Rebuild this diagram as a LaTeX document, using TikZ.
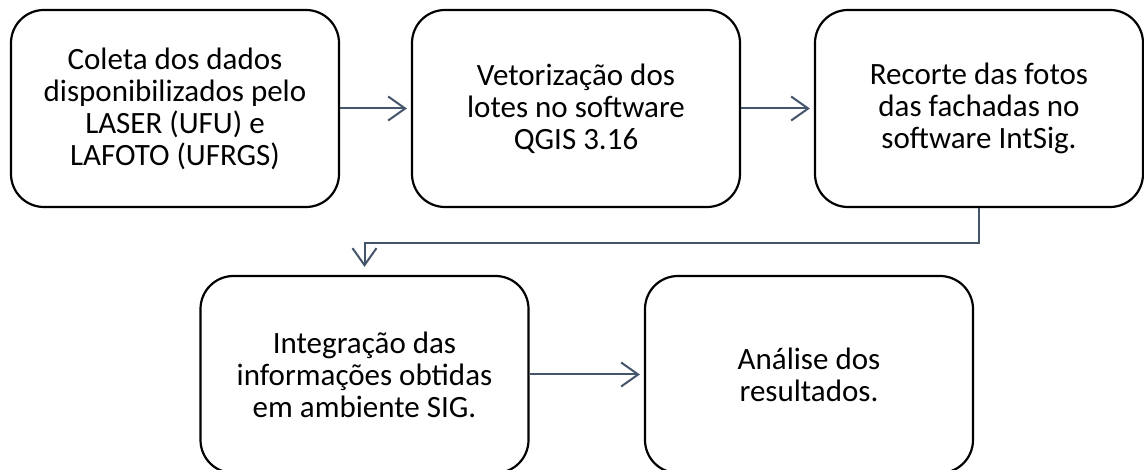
\documentclass[tikz,border=0pt]{standalone}
\usepackage{fontspec}
\setmainfont{Carlito}
\usetikzlibrary{arrows.meta}
\definecolor{slate}{HTML}{44546A}
\tikzset{
  stepbox/.style={draw=black, line width=2.2pt, rectangle, rounded corners=33pt,
    minimum width=328pt, minimum height=197pt, align=center, inner sep=0pt,
    font=\fontsize{31pt}{32pt}\selectfont},
  conn/.style={draw=slate, line width=2pt,
    -{Straight Barb[length=17pt,width=24pt,line width=2pt]}}
}
\begin{document}
\begin{tikzpicture}[x=1pt,y=-1pt]
\clip (0,0) rectangle (1144,470);
\useasboundingbox (0,0) rectangle (1144,470);
\fill[white] (0,0) rectangle (1144,470);
\node[stepbox] (b1) at (175,108.5) {Coleta dos dados\\disponibilizados pelo\\LASER (UFU) e\\LAFOTO (UFRGS)};
\node[stepbox] (b2) at (576,108.5) {Vetorização dos\\lotes no software\\QGIS 3.16};
\node[stepbox] (b3) at (979,108.5) {Recorte das fotos\\das fachadas no\\software IntSig.};
\node[stepbox] (b4) at (364.5,374.5) {Integração das\\informações obtidas\\em ambiente SIG.};
\node[stepbox] (b5) at (809,374.5) {Análise dos\\resultados.};
\draw[conn, shorten >=4pt] (b1) -- (b2);
\draw[conn, shorten >=4pt] (b2) -- (b3);
\draw[conn, shorten >=8pt] (b3.south) -- ++(0,34.5) -| (b4.north);
\draw[conn, shorten >=4pt] (b4) -- (b5);
\end{tikzpicture}
\end{document}
